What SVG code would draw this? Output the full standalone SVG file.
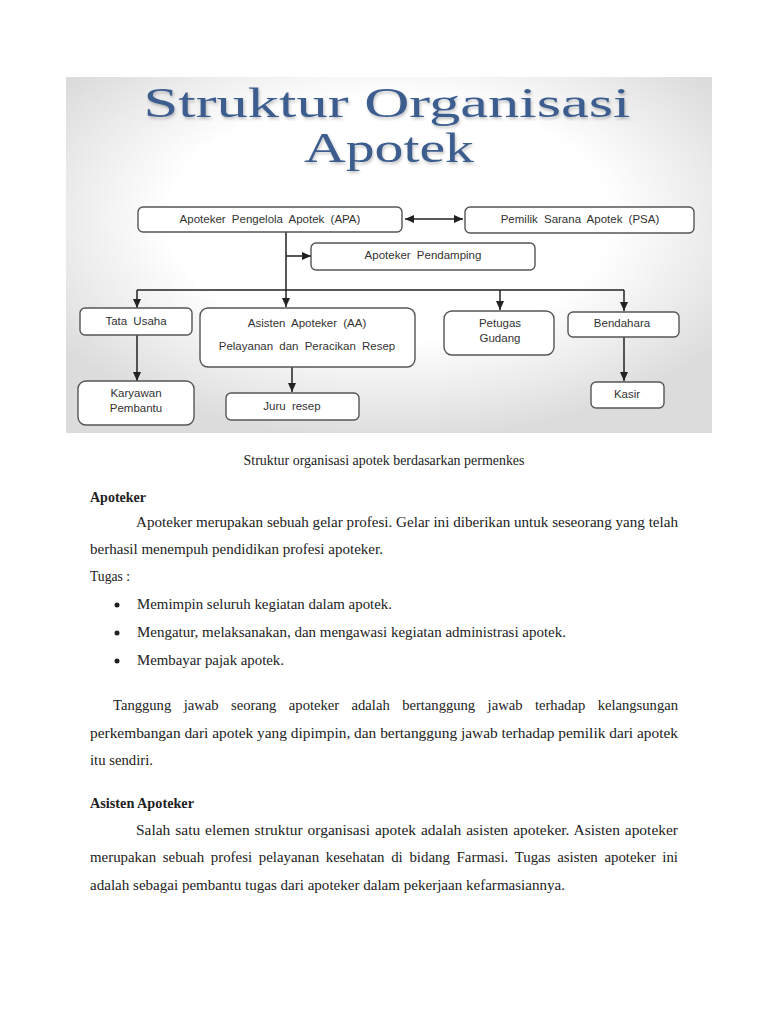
<svg xmlns="http://www.w3.org/2000/svg" width="768" height="1024" viewBox="0 0 768 1024">
<defs>
<radialGradient id="bg" cx="50%" cy="40%" r="62%">
<stop offset="0.55" stop-color="#ffffff"/>
<stop offset="1" stop-color="#dcdcdc"/>
</radialGradient>
<marker id="ah" markerUnits="userSpaceOnUse" markerWidth="9" markerHeight="8" refX="9" refY="4" orient="auto-start-reverse">
<path d="M0,0 L9,4 L0,8 z" fill="#222"/>
</marker>
<filter id="sh" x="-5%" y="-20%" width="110%" height="140%">
<feDropShadow dx="1" dy="2" stdDeviation="1.5" flood-color="#000" flood-opacity="0.25"/>
</filter>
</defs>
<style>
.box{fill:#fff;stroke:#555;stroke-width:1.4}
.bt{font-family:"Liberation Sans",Arial,sans-serif;font-size:11.5px;fill:#333;text-anchor:middle;word-spacing:3px}
.ln{stroke:#222;stroke-width:1.5;fill:none}
.ar{marker-end:url(#ah)}
.title{font-family:"Liberation Serif","Times New Roman",serif;font-size:42px;fill:#3d5d8e;text-anchor:middle}
.body{font-family:"Liberation Serif","Times New Roman",serif;font-size:15px;fill:#222}
.bold{font-weight:bold}
</style>
<rect width="768" height="1024" fill="#fff"/>
<rect x="66" y="77" width="646" height="356" fill="url(#bg)"/>
<g id="title" filter="url(#sh)">
<text class="title" x="387" y="117" textLength="487" lengthAdjust="spacingAndGlyphs">Struktur Organisasi</text>
<text class="title" x="389" y="162" textLength="170" lengthAdjust="spacingAndGlyphs">Apotek</text>
</g>
<g id="connectors">
<line class="ln" x1="405" y1="219" x2="463" y2="219" marker-start="url(#ah)" marker-end="url(#ah)"/>
<line class="ln ar" x1="286" y1="232" x2="286" y2="307"/>
<line class="ln ar" x1="286" y1="256" x2="311" y2="256"/>
<line class="ln" x1="137" y1="290" x2="624" y2="290"/>
<line class="ln ar" x1="137" y1="290" x2="137" y2="308"/>
<line class="ln ar" x1="500" y1="290" x2="500" y2="310"/>
<line class="ln ar" x1="624" y1="290" x2="624" y2="311"/>
<line class="ln ar" x1="137" y1="335" x2="137" y2="381"/>
<line class="ln ar" x1="292" y1="367" x2="292" y2="392"/>
<line class="ln ar" x1="624" y1="337" x2="624" y2="381"/>
</g>
<g id="apa"><rect class="box" x="138" y="207" width="264" height="25" rx="5"/><text class="bt" x="270" y="223">Apoteker Pengelola Apotek (APA)</text></g>
<g id="psa"><rect class="box" x="465" y="207" width="229" height="26" rx="5"/><text class="bt" x="580" y="223">Pemilik Sarana Apotek (PSA)</text></g>
<g id="pendamping"><rect class="box" x="311" y="243" width="224" height="27" rx="5"/><text class="bt" x="423" y="259">Apoteker Pendamping</text></g>
<g id="tatausaha"><rect class="box" x="80" y="308" width="112" height="27" rx="5"/><text class="bt" x="136" y="325">Tata Usaha</text></g>
<g id="aa"><rect class="box" x="200" y="308" width="215" height="59" rx="8"/><text class="bt" x="307" y="327">Asisten Apoteker (AA)</text><text class="bt" x="307" y="350">Pelayanan dan Peracikan Resep</text></g>
<g id="gudang"><rect class="box" x="444" y="311" width="110" height="44" rx="8"/><text class="bt" x="500" y="327">Petugas</text><text class="bt" x="500" y="342">Gudang</text></g>
<g id="bendahara"><rect class="box" x="568" y="312" width="111" height="25" rx="5"/><text class="bt" x="622" y="327">Bendahara</text></g>
<g id="karyawan"><rect class="box" x="78" y="381" width="116" height="44" rx="8"/><text class="bt" x="136" y="397">Karyawan</text><text class="bt" x="136" y="412">Pembantu</text></g>
<g id="juru"><rect class="box" x="226" y="393" width="133" height="27" rx="5"/><text class="bt" x="292" y="410">Juru resep</text></g>
<g id="kasir"><rect class="box" x="591" y="382" width="73" height="26" rx="5"/><text class="bt" x="627" y="398">Kasir</text></g>
<g id="text">
<text class="body" x="384" y="465" text-anchor="middle" textLength="281" lengthAdjust="spacingAndGlyphs">Struktur organisasi apotek berdasarkan permenkes</text>
<text class="body bold" x="90" y="502" textLength="56" lengthAdjust="spacingAndGlyphs">Apoteker</text>
<text class="body" x="136" y="527" textLength="542" lengthAdjust="spacingAndGlyphs">Apoteker merupakan sebuah gelar profesi. Gelar ini diberikan untuk seseorang yang telah</text>
<text class="body" x="90" y="554" textLength="293" lengthAdjust="spacingAndGlyphs">berhasil menempuh pendidikan profesi apoteker.</text>
<text class="body" x="90" y="581" textLength="40" lengthAdjust="spacingAndGlyphs">Tugas :</text>
<circle cx="117" cy="605" r="2.5" fill="#222"/>
<circle cx="117" cy="633" r="2.5" fill="#222"/>
<circle cx="117" cy="661" r="2.5" fill="#222"/>
<text class="body" x="137" y="609" textLength="255" lengthAdjust="spacingAndGlyphs">Memimpin seluruh kegiatan dalam apotek.</text>
<text class="body" x="137" y="637" textLength="429" lengthAdjust="spacingAndGlyphs">Mengatur, melaksanakan, dan mengawasi kegiatan administrasi apotek.</text>
<text class="body" x="137" y="665" textLength="147" lengthAdjust="spacingAndGlyphs">Membayar pajak apotek.</text>
<text class="body" x="113" y="710" word-spacing="9" textLength="565" lengthAdjust="spacingAndGlyphs">Tanggung jawab seorang apoteker adalah bertanggung jawab terhadap kelangsungan</text>
<text class="body" x="90" y="738" textLength="588" lengthAdjust="spacingAndGlyphs">perkembangan dari apotek yang dipimpin, dan bertanggung jawab terhadap pemilik dari apotek</text>
<text class="body" x="90" y="765" textLength="63" lengthAdjust="spacingAndGlyphs">itu sendiri.</text>
<text class="body bold" x="90" y="808" textLength="104" lengthAdjust="spacingAndGlyphs">Asisten Apoteker</text>
<text class="body" x="136" y="835" word-spacing="1" textLength="542" lengthAdjust="spacingAndGlyphs">Salah satu elemen struktur organisasi apotek adalah asisten apoteker. Asisten apoteker</text>
<text class="body" x="90" y="862" word-spacing="3" textLength="588" lengthAdjust="spacingAndGlyphs">merupakan sebuah profesi pelayanan kesehatan di bidang Farmasi. Tugas asisten apoteker ini</text>
<text class="body" x="90" y="890" textLength="475" lengthAdjust="spacingAndGlyphs">adalah sebagai pembantu tugas dari apoteker dalam pekerjaan kefarmasiannya.</text>
</g>
</svg>
